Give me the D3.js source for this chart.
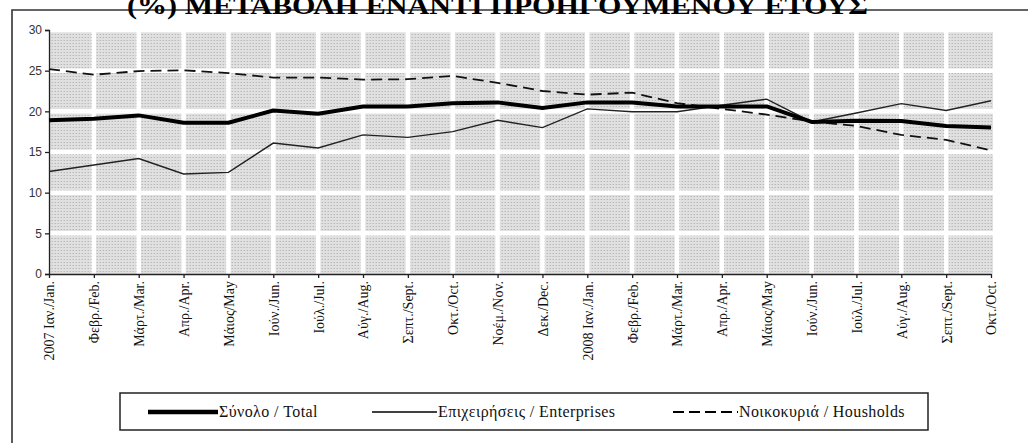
<!DOCTYPE html>
<html>
<head>
<meta charset="utf-8">
<script src="https://cdn.jsdelivr.net/npm/d3@7"></script>
<style>
  html, body { margin: 0; padding: 0; background: #fff; }
  svg { display: block; }
</style>
</head>
<body>
<svg id="chart" width="1028" height="443"></svg>
<script>
// Monthly categories, Jan 2007 – Oct 2008
const months = [
  "2007 Ιαν./Jan.", "Φεβρ./Feb.", "Μάρτ./Mar.", "Απρ./Apr.", "Μάιος/May", "Ιούν./Jun.",
  "Ιούλ./Jul.", "Αύγ./Aug.", "Σεπτ./Sept.", "Οκτ./Oct.", "Νοέμ./Nov.", "Δεκ./Dec.",
  "2008 Ιαν./Jan.", "Φεβρ./Feb. ", "Μάρτ./Mar. ", "Απρ./Apr. ", "Μάιος/May ", "Ιούν./Jun. ",
  "Ιούλ./Jul. ", "Αύγ./Aug. ", "Σεπτ./Sept. ", "Οκτ./Oct. "
];

// Annual % change
const total = [18.9, 19.1, 19.5, 18.6, 18.6, 20.1, 19.7, 20.6, 20.6, 21.0, 21.1, 20.4,
               21.1, 21.1, 20.6, 20.6, 20.6, 18.7, 18.85, 18.8, 18.2, 18.0];
const enterprises = [12.6, 13.4, 14.2, 12.3, 12.5, 16.1, 15.5, 17.1, 16.8, 17.5, 18.9, 18.0,
                     20.3, 19.95, 19.95, 20.75, 21.5, 18.7, 19.8, 20.95, 20.1, 21.3];
const households = [25.2, 24.5, 24.95, 25.05, 24.7, 24.15, 24.15, 23.9, 23.95, 24.35, 23.5, 22.5,
                    22.05, 22.3, 21.0, 20.3, 19.6, 18.75, 18.2, 17.1, 16.5, 15.2];

const yTicks = [0, 5, 10, 15, 20, 25, 30];

const titleText = "(%) ΜΕΤΑΒΟΛΗ ΕΝΑΝΤΙ ΠΡΟΗΓΟΥΜΕΝΟΥ ΕΤΟΥΣ";
const legendLabels = ["Σύνολο / Total", "Επιχειρήσεις / Enterprises", "Νοικοκυριά / Housholds"];

const svg = d3.select("#chart");

const plotLeft = 49, plotRight = 991, plotTop = 30, plotBottom = 274;
const x = d3.scalePoint().domain(months).range([plotLeft, plotRight]);
const y = d3.scaleLinear().domain([0, 30]).range([plotBottom, plotTop]);

// Dotted grey fill pattern for the plot area
const defs = svg.append("defs");
const pat = defs.append("pattern")
  .attr("id", "dots").attr("width", 3).attr("height", 3)
  .attr("patternUnits", "userSpaceOnUse");
pat.append("rect").attr("width", 3).attr("height", 3).attr("fill", "#e0e0e0");
pat.append("rect").attr("x", 1).attr("y", 1).attr("width", 1).attr("height", 1).attr("fill", "#b8b8b8");
pat.append("rect").attr("x", 0).attr("y", 1).attr("width", 1).attr("height", 1).attr("fill", "#cfcfcf");

// Outer frame (top and left edges)
svg.append("path")
  .attr("d", "M12,1100 L12,10 L1100,10")
  .attr("fill", "none").attr("stroke", "#333").attr("stroke-width", 1.6);

// Title
svg.append("text")
  .attr("x", 127).attr("y", 14)
  .attr("textLength", 741).attr("lengthAdjust", "spacingAndGlyphs")
  .attr("font-family", "'Liberation Serif', 'Times New Roman', serif")
  .attr("font-weight", "bold").attr("font-size", 26)
  .attr("fill", "#000")
  .text(titleText);

// Plot background
svg.append("rect")
  .attr("x", plotLeft).attr("y", plotTop)
  .attr("width", plotRight - plotLeft + 2).attr("height", plotBottom - plotTop)
  .attr("fill", "url(#dots)");

// White grid lines
svg.append("g").selectAll("line")
  .data(months.slice(1, -1))
  .join("line")
  .attr("x1", d => x(d)).attr("x2", d => x(d))
  .attr("y1", plotTop).attr("y2", plotBottom)
  .attr("stroke", "#fff").attr("stroke-width", 4.5);

svg.append("g").selectAll("line")
  .data(yTicks.slice(1))
  .join("line")
  .attr("x1", plotLeft).attr("x2", plotRight + 2)
  .attr("y1", d => y(d)).attr("y2", d => y(d))
  .attr("stroke", "#fff").attr("stroke-width", 4.5);

// Y axis
const yAxis = svg.append("g")
  .attr("transform", `translate(${plotLeft},0)`)
  .call(d3.axisLeft(y).tickValues(yTicks).tickSize(4).tickPadding(3));
yAxis.select(".domain").attr("stroke", "#222").attr("stroke-width", 1.3);
yAxis.selectAll(".tick line").attr("stroke", "#222").attr("stroke-width", 1.3);
yAxis.selectAll("text")
  .attr("font-family", "'Liberation Sans', Arial, sans-serif")
  .attr("font-size", 12).attr("fill", "#333");

// X axis
const xAxis = svg.append("g")
  .attr("transform", `translate(0,${plotBottom})`)
  .call(d3.axisBottom(x).tickSize(4).tickSizeOuter(0));
xAxis.select(".domain").attr("stroke", "#222").attr("stroke-width", 1.3);
xAxis.selectAll(".tick line").attr("stroke", "#222").attr("stroke-width", 1.3);
xAxis.selectAll("text")
  .text(d => d.trim())
  .attr("font-family", "'Liberation Serif', 'Times New Roman', serif")
  .attr("font-size", 14).attr("fill", "#111")
  .attr("text-anchor", "end")
  .attr("dy", "0.35em")
  .attr("transform", "translate(0,7) rotate(-90)")
  .attr("x", 0).attr("y", 0);

// Series lines
const line = d3.line().x((d, i) => x(months[i])).y(d => y(d));

svg.append("path").datum(households)
  .attr("d", line).attr("fill", "none")
  .attr("stroke", "#111").attr("stroke-width", 1.8)
  .attr("stroke-dasharray", "11,6");

svg.append("path").datum(enterprises)
  .attr("d", line).attr("fill", "none")
  .attr("stroke", "#222").attr("stroke-width", 1.4);

svg.append("path").datum(total)
  .attr("d", line).attr("fill", "none")
  .attr("stroke", "#000").attr("stroke-width", 4)
  .attr("stroke-linejoin", "round");

// Legend
const legend = svg.append("g");
legend.append("rect")
  .attr("x", 120).attr("y", 393).attr("width", 808).attr("height", 37)
  .attr("fill", "#fff").attr("stroke", "#222").attr("stroke-width", 1.5);

const legendItems = [
  { label: legendLabels[0], x0: 148, x1: 218, width: 4.5, dash: null },
  { label: legendLabels[1], x0: 372, x1: 437, width: 1.3, dash: null },
  { label: legendLabels[2], x0: 673, x1: 738, width: 1.8, dash: "11,5" }
];
legendItems.forEach(it => {
  legend.append("line")
    .attr("x1", it.x0).attr("x2", it.x1).attr("y1", 412).attr("y2", 412)
    .attr("stroke", "#000").attr("stroke-width", it.width)
    .attr("stroke-dasharray", it.dash);
  legend.append("text")
    .attr("x", it.x1 + 1).attr("y", 417)
    .attr("font-family", "'Liberation Serif', 'Times New Roman', serif")
    .attr("font-size", 16).attr("letter-spacing", 0.4).attr("fill", "#111")
    .text(it.label);
});
</script>
</body>
</html>
